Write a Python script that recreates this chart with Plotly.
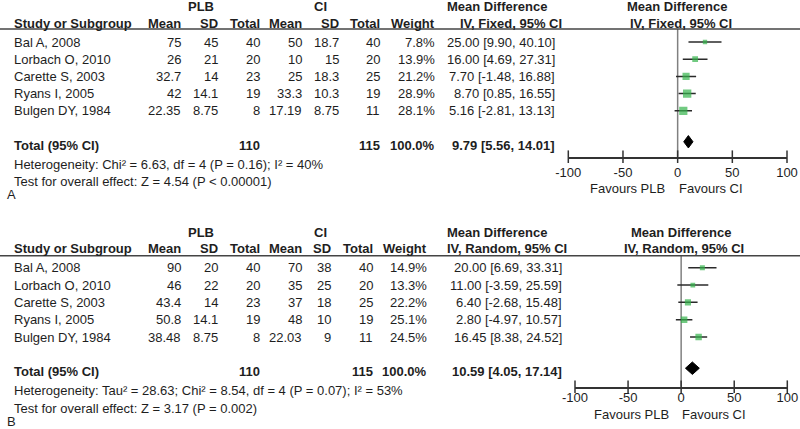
import plotly.graph_objects as go

# ---- data ----
studies = ["Bal A, 2008", "Lorbach O, 2010", "Carette S, 2003", "Ryans I, 2005", "Bulgen DY, 1984"]
plb_n = [40, 20, 23, 19, 8]
ci_n = [40, 20, 25, 19, 11]

# panel A: fixed effect
plb_mean_a = [75, 26, 32.7, 42, 22.35]
plb_sd_a = [45, 21, 14, 14.1, 8.75]
ci_mean_a = [50, 10, 25, 33.3, 17.19]
ci_sd_a = [18.7, 15, 18.3, 10.3, 8.75]
weight_a = [7.8, 13.9, 21.2, 28.9, 28.1]
md_a = [25.00, 16.00, 7.70, 8.70, 5.16]
lo_a = [9.90, 4.69, -1.48, 0.85, -2.81]
hi_a = [40.10, 27.31, 16.88, 16.55, 13.13]
total_a = [9.79, 5.56, 14.01]
het_a = "Heterogeneity: Chi² = 6.63, df = 4 (P = 0.16); I² = 40%"
test_a = "Test for overall effect: Z = 4.54 (P < 0.00001)"

# panel B: random effects
plb_mean_b = [90, 46, 43.4, 50.8, 38.48]
plb_sd_b = [20, 22, 14, 14.1, 8.75]
ci_mean_b = [70, 35, 37, 48, 22.03]
ci_sd_b = [38, 25, 18, 10, 9]
weight_b = [14.9, 13.3, 22.2, 25.1, 24.5]
md_b = [20.00, 11.00, 6.40, 2.80, 16.45]
lo_b = [6.69, -3.59, -2.68, -4.97, 8.38]
hi_b = [33.31, 25.59, 15.48, 10.57, 24.52]
total_b = [10.59, 4.05, 17.14]
het_b = "Heterogeneity: Tau² = 28.63; Chi² = 8.54, df = 4 (P = 0.07); I² = 53%"
test_b = "Test for overall effect: Z = 3.17 (P = 0.002)"

tickvals = [-100, -50, 0, 50, 100]
ticklabels = ["-100", "-50", "0", "50", "100"]

W, H = 800, 429
FONT = "Liberation Sans, Arial, sans-serif"
TXT = "#1e1e1e"
GREEN = "#34b44c"

panels = [
    dict(suffix="", letter="A", method="IV, Fixed, 95% CI",
         plb_mean=plb_mean_a, plb_sd=plb_sd_a, ci_mean=ci_mean_a, ci_sd=ci_sd_a,
         weight=weight_a, md=md_a, lo=lo_a, hi=hi_a, total=total_a, het=het_a, test=test_a,
         top=29, bottom=156.7, x0=568.3, x1=787, rng=[7.669, 0.244], msize=1.55, standoff=3,
         cols=[183, 220, 262, 304, 341, 382, 437, 557],
         grp=[200.7, 320, 497, 677], ivc=[511, 681]),
    dict(suffix="2", letter="B", method="IV, Random, 95% CI",
         plb_mean=plb_mean_b, plb_sd=plb_sd_b, ci_mean=ci_mean_b, ci_sd=ci_sd_b,
         weight=weight_b, md=md_b, lo=lo_b, hi=hi_b, total=total_b, het=het_b, test=test_b,
         top=255.7, bottom=386.7, x0=575, x1=787.3, rng=[7.867, 0.3076], msize=1.3, standoff=-2,
         cols=[183, 220, 262, 304, 333, 375, 429, 564],
         grp=[201, 320, 497, 681], ivc=[506.5, 684]),
]

fig = go.Figure()
annotations = []
shapes = []
layout = {}


def txt(p, x, row, s, anchor="right", bold=False, xref="paper"):
    # rows are converted to a fraction of the panel's y domain so text may sit outside it
    bot, top = p["rng"]
    yfrac = (bot - row) / (bot - top)
    if xref == "paper":
        x = x / W
    annotations.append(dict(
        x=x, y=yfrac, xref=xref, yref="y" + p["suffix"] + " domain",
        text=f"<b>{s}</b>" if bold else s,
        showarrow=False, xanchor=anchor, yanchor="middle",
        font=dict(family=FONT, size=13, color=TXT)))


for p in panels:
    xa = "x" + p["suffix"]
    ya = "y" + p["suffix"]
    rows = list(range(1, len(studies) + 1))
    total_row = 7
    c = p["cols"]

    # header texts
    txt(p, p["grp"][0], -1.05, "PLB", "center", True)
    txt(p, p["grp"][1], -1.05, "CI", "center", True)
    txt(p, p["grp"][2], -1.05, "Mean Difference", "center", True)
    txt(p, p["grp"][3], -1.05, "Mean Difference", "center", True)
    txt(p, 11.7, -0.08, "Study or Subgroup", "left", True)
    for x, s in zip(c[:7], ["Mean", "SD", "Total", "Mean", "SD", "Total", "Weight"]):
        txt(p, x, -0.08, s, "right", True)
    txt(p, p["ivc"][0], -0.08, p["method"], "center", True)
    txt(p, p["ivc"][1], -0.08, p["method"], "center", True)

    # study rows
    for i, r in enumerate(rows):
        txt(p, 11.7, r, studies[i], "left")
        vals = [f"{p['plb_mean'][i]:g}", f"{p['plb_sd'][i]:g}", str(plb_n[i]),
                f"{p['ci_mean'][i]:g}", f"{p['ci_sd'][i]:g}", str(ci_n[i]),
                f"{p['weight'][i]:.1f}%",
                f"{p['md'][i]:.2f} [{p['lo'][i]:.2f}, {p['hi'][i]:.2f}]"]
        for x, s in zip(c, vals):
            txt(p, x, r, s, "right")

    # total row and footnotes
    est, tlo, thi = p["total"]
    txt(p, 11.7, total_row, "Total (95% CI)", "left", True)
    txt(p, c[2], total_row, str(sum(plb_n)), "right", True)
    txt(p, c[5], total_row, str(sum(ci_n)), "right", True)
    txt(p, c[6], total_row, "100.0%", "right", True)
    txt(p, c[7], total_row, f"{est:.2f} [{tlo:.2f}, {thi:.2f}]", "right", True)
    txt(p, 11.7, 8.1, p["het"], "left")
    txt(p, 11.7, 9.1, p["test"], "left")
    txt(p, 5, 9.85, p["letter"], "left")
    txt(p, -10, 9.5, "Favours PLB", "right", xref=xa)
    txt(p, -1, 9.5, "Favours CI", "left", xref=xa)

    # header rule and zero line
    shapes.append(dict(type="line", xref="paper", yref=ya + " domain", x0=0, x1=1, y0=1, y1=1,
                       line=dict(color="#444", width=1.5)))
    shapes.append(dict(type="line", xref=xa, yref=ya + " domain", x0=0, x1=0, y0=0, y1=1,
                       line=dict(color="#808080", width=1.5), layer="below"))

    # study estimates with CI whiskers
    fig.add_trace(go.Scatter(
        x=p["md"], y=rows, xaxis=xa, yaxis=ya, mode="markers",
        marker=dict(symbol="square", color=GREEN,
                    size=[p["msize"] * w ** 0.5 for w in p["weight"]], line=dict(width=0)),
        error_x=dict(type="data", symmetric=False,
                     array=[h - m for h, m in zip(p["hi"], p["md"])],
                     arrayminus=[m - l for m, l in zip(p["md"], p["lo"])],
                     width=0, color="#2a2a2a", thickness=1.5),
        showlegend=False, hoverinfo="skip"))

    # pooled diamond (sits a little above the text baseline in the original)
    dy = total_row - 0.2
    dh = 0.36
    fig.add_trace(go.Scatter(
        x=[tlo, est, thi, est, tlo], y=[dy, dy - dh, dy, dy + dh, dy],
        xaxis=xa, yaxis=ya, mode="lines", fill="toself", fillcolor="black",
        line=dict(color="black", width=1), showlegend=False, hoverinfo="skip"))

    # tick marks crossing the axis line
    fig.add_trace(go.Scatter(
        x=tickvals, y=[p["rng"][0]] * len(tickvals), xaxis=xa, yaxis=ya, mode="markers",
        marker=dict(symbol="line-ns", size=9, line=dict(color="#333", width=1.5)),
        cliponaxis=False, showlegend=False, hoverinfo="skip"))

    layout["xaxis" + p["suffix"]] = dict(
        domain=[p["x0"] / W, p["x1"] / W], range=[-100, 100], anchor=ya,
        tickvals=tickvals, ticktext=ticklabels, ticks="", ticklabelstandoff=p["standoff"],
        automargin=False,
        showline=True, linecolor="#333", linewidth=1.5, showgrid=False, zeroline=False,
        tickfont=dict(family=FONT, size=13, color=TXT))
    layout["yaxis" + p["suffix"]] = dict(
        domain=[1 - p["bottom"] / H, 1 - p["top"] / H], range=p["rng"], anchor=xa,
        automargin=False, visible=False, showgrid=False, zeroline=False)

fig.update_layout(
    template="none",
    width=W, height=H, margin=dict(l=0, r=0, t=0, b=0, pad=0), autosize=False,
    paper_bgcolor="white", plot_bgcolor="rgba(0,0,0,0)",
    annotations=annotations, shapes=shapes, **layout)

# the page's default body margin would push the 800x429 figure off the window
fig.write_html("out.html", config={"displayModeBar": False},
               post_script="document.body.style.margin = '0';")
